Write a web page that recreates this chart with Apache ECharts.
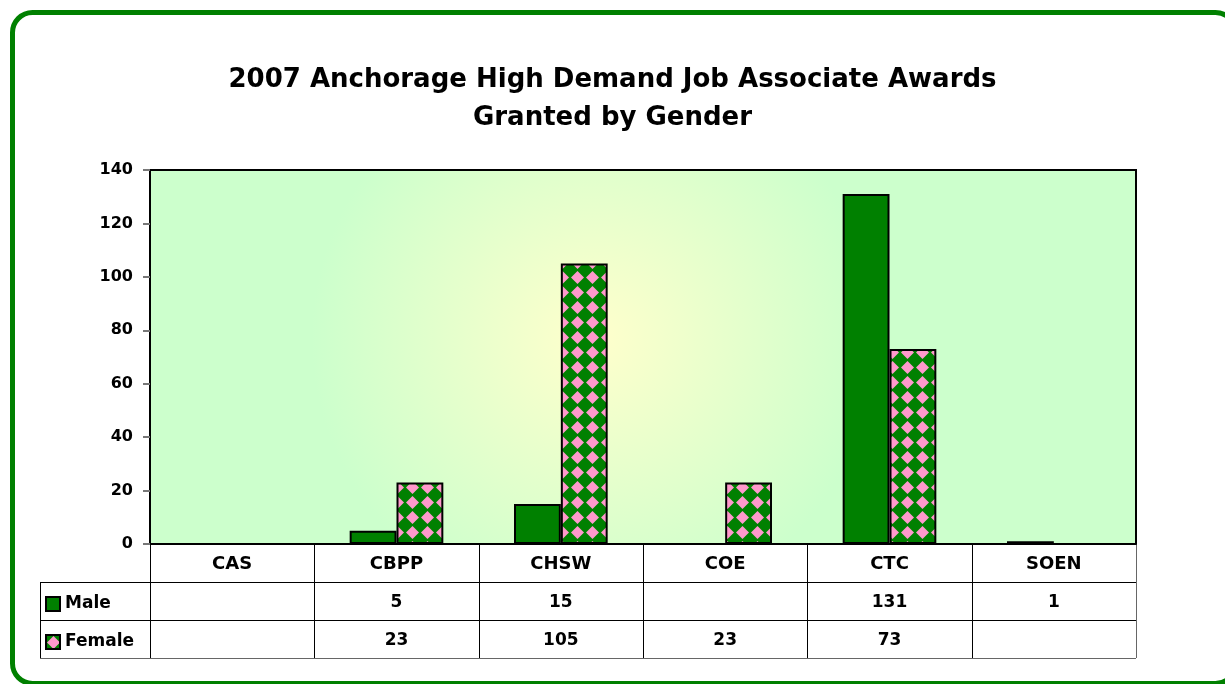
<!DOCTYPE html>
<html>
<head>
<meta charset="utf-8">
<script src="https://cdn.jsdelivr.net/npm/echarts@6/dist/echarts.min.js"></script>
<style>
  html, body { margin: 0; padding: 0; background: #fff; overflow: hidden; }
  #main { width: 1225px; height: 684px; }
</style>
</head>
<body>
<div id="main"></div>
<script>
const categories = ['CAS', 'CBPP', 'CHSW', 'COE', 'CTC', 'SOEN'];
const male = [null, 5, 15, null, 131, 1];
const female = [null, 23, 105, 23, 73, null];
const yTicks = [0, 20, 40, 60, 80, 100, 120, 140];

const myChart = echarts.init(document.getElementById('main'));

// pink diamond on green tile, for the Female bars
function diamondTile() {
  const c = document.createElement('canvas');
  c.width = 15; c.height = 15;
  const ctx = c.getContext('2d');
  ctx.fillStyle = '#008000';
  ctx.fillRect(0, 0, 15, 15);
  ctx.fillStyle = '#ff99cc';
  ctx.beginPath();
  ctx.moveTo(7.5, 1); ctx.lineTo(14, 7.5); ctx.lineTo(7.5, 14); ctx.lineTo(1, 7.5);
  ctx.closePath();
  ctx.fill();
  return c;
}
const femaleFill = { image: diamondTile(), repeat: 'repeat' };

// grid / table geometry
const G = { left: 150, top: 170, width: 986, height: 374 };
const rowH = 38;
const tableLeft = 40;
const bottomY = G.top + G.height;
const colW = G.width / categories.length;

const lines = [];
const lineStyle = { stroke: '#000', lineWidth: 1 };
const edgeStyle = { stroke: '#666', lineWidth: 1 };
for (let k = 0; k <= categories.length; k++) {
  const x = Math.round(G.left + k * colW) + 0.5;
  lines.push({ type: 'line', shape: { x1: x, y1: bottomY, x2: x, y2: bottomY + 3 * rowH }, style: k === categories.length ? edgeStyle : lineStyle });
}
lines.push({ type: 'line', shape: { x1: tableLeft + 0.5, y1: bottomY + rowH, x2: tableLeft + 0.5, y2: bottomY + 3 * rowH }, style: lineStyle });
for (let r = 1; r <= 3; r++) {
  const y = bottomY + r * rowH + 0.5;
  lines.push({ type: 'line', shape: { x1: tableLeft, y1: y, x2: G.left + G.width, y2: y }, style: r === 3 ? edgeStyle : lineStyle });
}

const FONT = '"DejaVu Sans", sans-serif';
const labelFont = { fontFamily: FONT, fontWeight: 'bold', fontSize: 17, color: '#000' };
const fmt = v => (v == null ? '' : String(v));

const option = {
  animation: false,
  backgroundColor: '#fff',
  title: {
    text: '2007 Anchorage High Demand Job Associate Awards\nGranted by Gender',
    left: 'center',
    top: 56,
    textStyle: { fontFamily: FONT, fontWeight: 'bold', fontSize: 26, lineHeight: 38, color: '#000' }
  },
  legend: {
    orient: 'vertical',
    left: 40,
    top: 590,
    itemWidth: 14,
    itemHeight: 14,
    itemGap: 20,
    icon: 'rect',
    textStyle: { fontFamily: FONT, fontWeight: 'bold', fontSize: 17, lineHeight: 18, color: '#000', padding: [0, 0, 0, 0] },
    data: ['Male', 'Female']
  },
  grid: {
    left: G.left, top: G.top, width: G.width, height: G.height,
    show: true,
    borderColor: '#000',
    borderWidth: 2,
    backgroundColor: {
      type: 'radial', x: 0.45, y: 0.45, r: 0.75,
      colorStops: [{ offset: 0, color: '#ffffcc' }, { offset: 1, color: '#ccffcc' }]
    }
  },
  xAxis: [
    {
      type: 'category', data: categories, position: 'bottom',
      axisLine: { lineStyle: { color: '#000', width: 2 } },
      axisTick: { show: false },
      axisLabel: Object.assign({ margin: 11 }, labelFont, { fontSize: 18 })
    },
    {
      type: 'category', data: male.map(fmt), position: 'bottom', offset: rowH,
      axisLine: { show: false }, axisTick: { show: false },
      axisLabel: Object.assign({ margin: 12 }, labelFont)
    },
    {
      type: 'category', data: female.map(fmt), position: 'bottom', offset: 2 * rowH,
      axisLine: { show: false }, axisTick: { show: false },
      axisLabel: Object.assign({ margin: 12 }, labelFont)
    }
  ],
  yAxis: {
    type: 'value', min: yTicks[0], max: yTicks[yTicks.length - 1], interval: 20,
    axisLine: { show: true, lineStyle: { color: '#000', width: 2 } },
    axisTick: { show: true, length: 7, lineStyle: { color: '#777', width: 2 } },
    splitLine: { show: false },
    axisLabel: Object.assign({ margin: 17 }, labelFont, { fontSize: 16 })
  },
  series: [
    {
      name: 'Male', type: 'bar', data: male,
      barGap: 0, barCategoryGap: '43%',
      itemStyle: { color: '#008000', borderColor: '#000', borderWidth: 2 }
    },
    {
      name: 'Female', type: 'bar', data: female,
      itemStyle: { color: femaleFill, borderColor: '#000', borderWidth: 2 }
    }
  ],
  graphic: lines.concat([
    {
      type: 'rect',
      shape: { x: 12.5, y: 12.5, width: 1223, height: 671, r: 20 },
      style: { fill: null, stroke: '#008000', lineWidth: 5 },
      z: 100
    }
  ])
};

myChart.setOption(option);
</script>
</body>
</html>
